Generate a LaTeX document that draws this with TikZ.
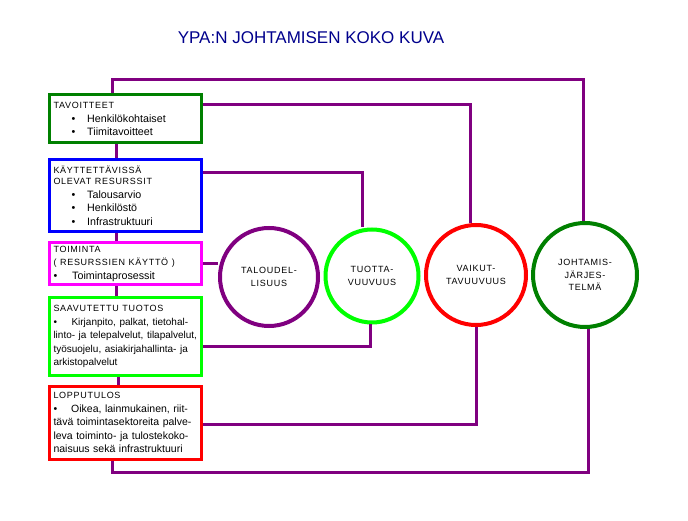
\documentclass[tikz,border=0pt]{standalone}
\usepackage{fontspec}
\setmainfont{Liberation Sans}
\newfontfamily\spacedfont[LetterSpace=8]{Liberation Sans}
\usetikzlibrary{positioning, calc}
\definecolor{titleblue}{RGB}{0,0,140}
\definecolor{linkpurple}{RGB}{128,0,128}
\definecolor{darkgreen}{RGB}{0,128,0}
\definecolor{limegreen}{RGB}{0,255,0}
\definecolor{puremagenta}{RGB}{255,0,255}
\newcommand{\headline}[1]{{\spacedfont\fontsize{9}{13.5}\selectfont #1}}
\newcommand{\pointitem}[1]{\hspace*{18pt}\textbullet\hspace{12pt}#1}

\begin{document}
\begin{tikzpicture}[
  x=1pt, y=-1pt,
  every node/.style={font=\fontsize{10.7}{13.5}\selectfont},
  box/.style={
    draw, rectangle, line width=3pt, minimum width=152pt, text width=144pt,
    inner xsep=4pt, inner ysep=2pt, align=left
  },
  goal/.style={box, draw=darkgreen, minimum height=48pt},
  resource/.style={box, draw=blue, minimum height=71.5pt},
  activity/.style={box, draw=puremagenta, minimum height=42.5pt},
  output/.style={box, draw=limegreen, minimum height=77.5pt},
  outcome/.style={box, draw=red, minimum height=72.5pt},
  measure/.style={
    circle, line width=4pt, align=center, inner sep=0pt,
    font=\spacedfont\fontsize{9}{12.5}\selectfont
  },
  link/.style={draw=linkpurple, line width=3pt}
]
\useasboundingbox (0,0) rectangle (688,521);

% --- Title ---
\node[font=\fontsize{17}{20}\selectfont, text=titleblue] (title) at (311,38) {YPA:N JOHTAMISEN KOKO KUVA};

% --- Left column: management chain ---
\node[goal] (tavoitteet) at (125.5,119) {\headline{TAVOITTEET}\\
  \pointitem{Henkilökohtaiset}\\
  \pointitem{Tiimitavoitteet}};
\node[resource, below=14pt of tavoitteet] (kaytettavissa) {\headline{KÄYTTETTÄVISSÄ}\\[-2.5pt]
  \headline{OLEVAT RESURSSIT}\\
  \pointitem{Talousarvio}\\
  \pointitem{Henkilöstö}\\
  \pointitem{Infrastruktuuri}};
\node[activity, below=8pt of kaytettavissa] (toiminta) {\headline{TOIMINTA}\\
  \headline{( RESURSSIEN KÄYTTÖ )}\\
  \textbullet\hspace{15pt}Toimintaprosessit};
\node[output, below=10pt of toiminta] (saavutettu) {\headline{SAAVUTETTU TUOTOS}\\
  {\fontsize{10}{13.5}\selectfont\textbullet\hspace{14.5pt}Kirjanpito, palkat, tietohal-\\
  linto- ja telepalvelut, tilapalvelut,\\
  työsuojelu, asiakirjahallinta- ja\\
  arkistopalvelut}};
\node[outcome, below=8pt of saavutettu] (lopputulos) {\headline{LOPPUTULOS}\\
  {\fontsize{10.5}{13.5}\selectfont\textbullet\hspace{14pt}Oikea, lainmukainen, riit-\\
  tävä toimintasektoreita palve-\\
  leva toiminto- ja tulostekoko-\\
  naisuus sekä infrastruktuuri}};

% --- Right: measures ---
\node[measure, draw=linkpurple, minimum size=98pt] (taloudel) at (269,277) {TALOUDEL-\\LISUUS};
\node[measure, draw=limegreen, minimum size=93pt] (tuotta) at (372,276) {TUOTTA-\\VUUVUUS};
\node[measure, draw=red, minimum size=100pt] (vaikut) at (476,275) {VAIKUT-\\TAVUUVUUS};
\node[measure, draw=darkgreen, minimum size=104pt] (johtamis) at (585,275) {JOHTAMIS-\\JÄRJES-\\TELMÄ};

% --- Connectors: chain ---
\draw[link] ([xshift=-9.5pt]tavoitteet.south) -- ([xshift=-9.5pt]kaytettavissa.north);
\draw[link] ([xshift=-9.5pt]kaytettavissa.south) -- ([xshift=-9.5pt]toiminta.north);
\draw[link] ([xshift=-9.5pt]toiminta.south) -- ([xshift=-9.5pt]saavutettu.north);
\draw[link] ([xshift=-7.5pt]saavutettu.south) -- ([xshift=-7.5pt]lopputulos.north);

% --- Connectors: boxes to measures ---
\draw[link] ([xshift=-13.5pt]tavoitteet.north) -- ++(0,-14) -| ([xshift=-2pt]johtamis.north);
\draw[link] ([yshift=14pt]tavoitteet.east) -| ([xshift=-6pt]vaikut.north);
\draw[link] ([yshift=23pt]kaytettavissa.east) -| ([xshift=-10pt]tuotta.north);
\draw[link] (toiminta.east) -- (toiminta.east -| taloudel.west);
\draw[link] ([yshift=-10pt]saavutettu.east) -| ([xshift=-2pt]tuotta.south);
\draw[link] ([yshift=-1.5pt]lopputulos.east) -| (vaikut.south);
\draw[link] ([xshift=-13.5pt]lopputulos.south) -- ++(0,12) -| ([xshift=3pt]johtamis.south);

\end{tikzpicture}
\end{document}
